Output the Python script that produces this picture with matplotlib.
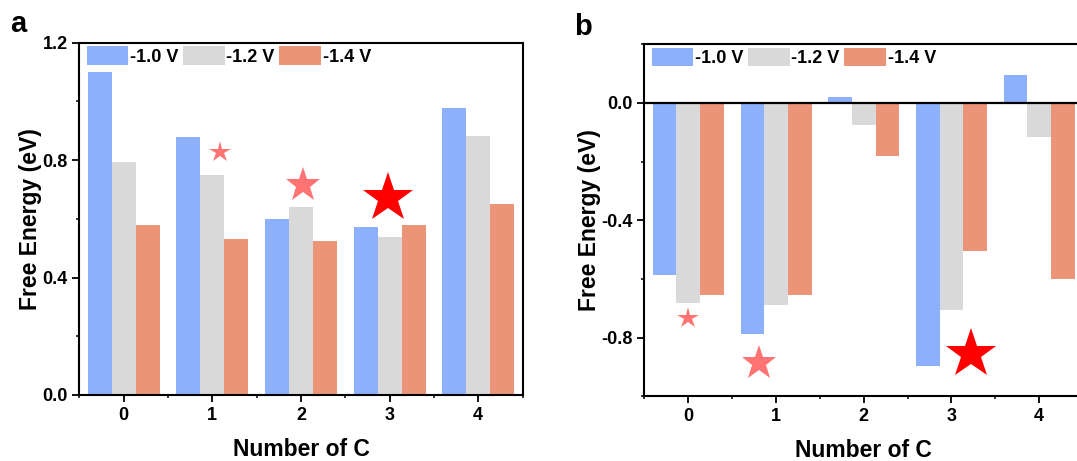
import matplotlib
matplotlib.use("Agg")
import matplotlib.pyplot as plt
from matplotlib.ticker import MultipleLocator
import numpy as np

plt.rcParams['font.family'] = ['Liberation Sans', 'DejaVu Sans']
plt.rcParams['font.weight'] = 'bold'

categories = [0, 1, 2, 3, 4]
series_labels = ['-1.0 V', '-1.2 V', '-1.4 V']
colors = ['#8CB0FC', '#D9D9D9', '#EB9478']

# panel a
a_v10 = [1.10, 0.88, 0.60, 0.573, 0.976]
a_v12 = [0.792, 0.749, 0.640, 0.538, 0.882]
a_v14 = [0.579, 0.531, 0.523, 0.579, 0.651]
a_star_x = [1.09, 2.02, 2.98]
a_star_y = [0.829, 0.715, 0.670]

# panel b
b_v10 = [-0.585, -0.787, 0.019, -0.897, 0.094]
b_v12 = [-0.680, -0.687, -0.077, -0.706, -0.116]
b_v14 = [-0.656, -0.654, -0.182, -0.506, -0.599]
b_star_x = [0.0, 0.81, 3.22]
b_star_y = [-0.732, -0.885, -0.857]

star_colors = ['#FF7373', '#FF7373', '#FF0000']
star_sizes = [16, 26, 38]

fig = plt.figure(figsize=(10.77, 4.61), dpi=100)
axa = fig.add_axes([0.0737, 0.1432, 0.4115, 0.7642])
axb = fig.add_axes([0.5984, 0.1400, 0.4072, 0.7642])

w = 0.27
x = np.arange(len(categories))


def draw(ax, vals, sx, sy):
    for i, (v, c, lab) in enumerate(zip(vals, colors, series_labels)):
        ax.bar(x + (i - 1) * w, v, width=w, color=c, label=lab, linewidth=0)
    for xs, ys, c, s in zip(sx, sy, star_colors, star_sizes):
        ax.plot([xs], [ys], marker='*', color=c, markersize=s, markeredgewidth=0, linestyle='none')
    ax.set_xlim(-0.5, 4.5)
    ax.set_xticks(x)
    ax.set_xticklabels([str(c) for c in categories])
    ax.xaxis.set_minor_locator(MultipleLocator(0.5))
    ax.yaxis.set_minor_locator(MultipleLocator(0.2))
    ax.yaxis.set_major_locator(MultipleLocator(0.4))
    ax.tick_params(axis='both', which='major', direction='out', length=5, width=1.3,
                   labelsize=13, top=False, right=False)
    ax.tick_params(axis='both', which='minor', direction='out', length=2.5, width=1.1,
                   top=False, right=False)
    for lbl in ax.get_xticklabels() + ax.get_yticklabels():
        lbl.set_fontweight('bold')
    for sp in ax.spines.values():
        sp.set_linewidth(1.5)
    ax.set_xlabel('Number of C', fontsize=16.5, fontweight='bold', labelpad=10)
    ax.set_ylabel('Free Energy (eV)', fontsize=16.5, fontweight='bold')
    ax.legend(ncol=3, loc='upper left', bbox_to_anchor=(0.017, 0.99), frameon=False,
              handlelength=2.3, handleheight=1.2, handletextpad=0.1, columnspacing=0.25,
              borderpad=0, borderaxespad=0,
              prop={'weight': 'bold', 'size': 13})


draw(axa, [a_v10, a_v12, a_v14], a_star_x, a_star_y)
axa.set_ylim(0, 1.2)
axa.set_yticks([0.0, 0.4, 0.8, 1.2])
axa.set_yticklabels(['0.0', '0.4', '0.8', '1.2'], fontweight='bold')
axa.yaxis.set_label_coords(-0.085, 0.5)

draw(axb, [b_v10, b_v12, b_v14], b_star_x, b_star_y)
axb.set_ylim(-1.0, 0.2)
axb.set_yticks([-0.8, -0.4, 0.0])
axb.set_yticklabels(['-0.8', '-0.4', '0.0'], fontweight='bold')
axb.axhline(0, color='black', linewidth=1.6)
axb.yaxis.set_label_coords(-0.10, 0.5)
axb.spines['right'].set_visible(False)

fig.text(0.009, 0.93, 'a', fontsize=21, fontweight='bold')
fig.text(0.533, 0.925, 'b', fontsize=21, fontweight='bold')

fig.savefig('out.png', dpi=100)
